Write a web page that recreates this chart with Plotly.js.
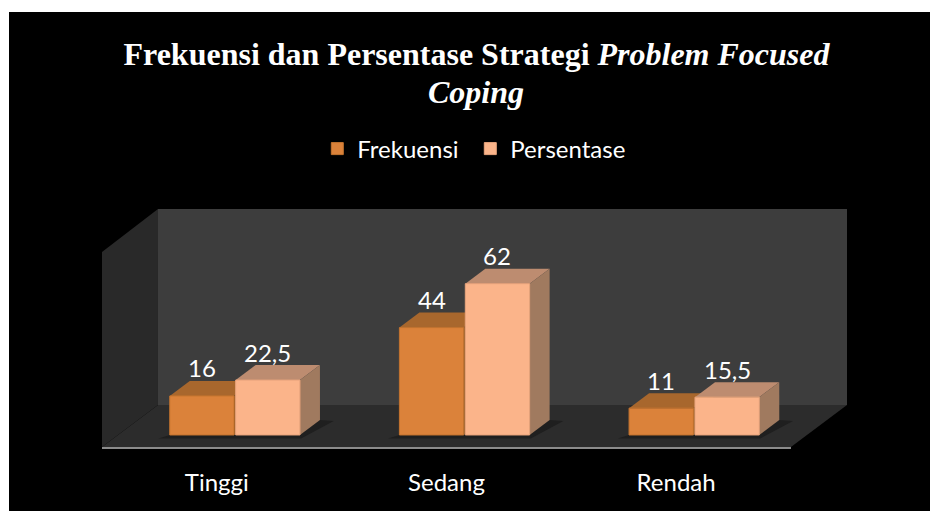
<!DOCTYPE html>
<html>
<head>
<meta charset="utf-8">
<script src="https://cdn.plot.ly/plotly-3.0.1.min.js"></script>
<style>
html,body{margin:0;padding:0;background:#fff;width:930px;height:511px;overflow:hidden}
#chart{position:absolute;left:9px;top:12px;width:921px;height:499px}
</style>
</head>
<body>
<div id="chart"></div>
<script>
const categories = ['Tinggi', 'Sedang', 'Rendah'];
const frekuensi = [16, 44, 11];
const persentase = [22.5, 62, 15.5];
const frekuensiText = ['16', '44', '11'];
const persentaseText = ['22,5', '62', '15,5'];
const seriesNames = ['Frekuensi', 'Persentase'];

const W = 921, H = 499;
const M = {l: 93, r: 83, t: 197, b: 62};
const xRange = [-0.5, 2.744], yRange = [-5.74, 92.6];
const uX = (W - M.l - M.r) / (xRange[1] - xRange[0]);
const uY = (H - M.t - M.b) / (yRange[1] - yRange[0]);
const depthX = 20 / uX, depthY = 15 / uY;
const barW = 0.28, offA = -0.205, offB = 0.082;
const floorY = -4.92, backX = -0.2562, backY = 12.3, frontEnd = 2.5, leftTopY = 75;
const labelFont = {family: 'Lato, sans-serif', size: 24, color: '#ffffff'};
const titleFont = {family: '"Liberation Serif", serif', size: 32, color: '#ffffff', weight: 'bold'};

function poly(pts, fill, extra) {
  return Object.assign({
    type: 'path', xref: 'x', yref: 'y', layer: 'below',
    fillcolor: fill, line: {width: 0},
    path: 'M' + pts.map(p => p[0] + ',' + p[1]).join('L') + 'Z'
  }, extra || {});
}

const shapes = [
  poly([[backX, backY], [xRange[1], backY], [xRange[1], yRange[1]], [backX, yRange[1]]], '#3d3d3d'),
  poly([[xRange[0], floorY], [backX, backY], [backX, yRange[1]], [xRange[0], leftTopY]], '#292929'),
  poly([[xRange[0], floorY], [backX, backY], [xRange[1], backY], [frontEnd, floorY]], '#2c2c2c')
];

categories.forEach((c, i) => {
  const l = i + offA, r = i + offB + barW;
  shapes.push(poly([
    [l - 0.05, -1.4], [r + 0.005, -1.4], [r + depthX + 0.06, depthY - 0.4], [r + depthX, depthY], [l, 0]
  ], '#1f1f1f'));
});

function faces(offset, values, topColor, sideColor) {
  values.forEach((v, i) => {
    const l = i + offset, r = l + barW;
    shapes.push(poly([[l, v], [r, v], [r + depthX, v + depthY], [l + depthX, v + depthY]], topColor));
    shapes.push(poly([[r, 0], [r + depthX, depthY], [r + depthX, v + depthY], [r, v]], sideColor));
  });
}
faces(offA, frekuensi, '#a8672d', '#8f5826');
faces(offB, persentase, '#bd8c70', '#a07a5f');

shapes.push({
  type: 'line', xref: 'x', yref: 'y', layer: 'above',
  x0: xRange[0], x1: frontEnd, y0: -5.33, y1: -5.33,
  line: {color: '#8c8c8c', width: 2}
});

function labels(offset, values, text) {
  return values.map((v, i) => ({
    x: i + offset + barW / 2, y: v, xref: 'x', yref: 'y',
    text: text[i], showarrow: false, yanchor: 'middle', xanchor: 'center',
    yshift: 28, font: labelFont
  }));
}

const traces = [
  {type: 'bar', name: seriesNames[0], x: categories, y: frekuensi, width: barW, offset: offA,
   legendwidth: 108,
   marker: {color: '#db823a', line: {color: '#c4742f', width: 1}}, hoverinfo: 'x+y'},
  {type: 'bar', name: seriesNames[1], x: categories, y: persentase, width: barW, offset: offB,
   marker: {color: '#fbb48a', line: {color: '#e8a47c', width: 1}}, hoverinfo: 'x+y'}
];

const layout = {
  width: W, height: H, margin: M,
  paper_bgcolor: '#000000', plot_bgcolor: '#000000',
  barmode: 'overlay',
  showlegend: true,
  font: {family: 'Lato, sans-serif', color: '#ffffff'},
  title: {
    text: 'Frekuensi dan Persentase Strategi <i>Problem Focused</i>',
    font: titleFont,
    x: 467.5 / W, xanchor: 'center', y: 1 - 42 / H, yanchor: 'middle'
  },
  legend: {
    orientation: 'h', x: 0.289, xanchor: 'left', y: 1.25, yanchor: 'middle',
    font: labelFont,
    bgcolor: 'rgba(0,0,0,0)', traceorder: 'normal'
  },
  xaxis: {
    type: 'category', categoryorder: 'array', categoryarray: categories,
    range: xRange, fixedrange: true, showgrid: false, zeroline: false, showline: false,
    ticks: 'outside', ticklen: 12, tickcolor: 'rgba(0,0,0,0)',
    tickfont: labelFont
  },
  yaxis: {range: yRange, visible: false, fixedrange: true, showgrid: false, zeroline: false},
  shapes: shapes,
  annotations: [{
    text: '<i>Coping</i>', xref: 'paper', yref: 'paper', showarrow: false,
    x: (467.5 - M.l) / (W - M.l - M.r), xanchor: 'center',
    y: 1 + (M.t - 80) / (H - M.t - M.b), yanchor: 'middle',
    font: titleFont
  }].concat(labels(offA, frekuensi, frekuensiText), labels(offB, persentase, persentaseText))
};

Plotly.newPlot('chart', traces, layout, {displayModeBar: false, responsive: false});
</script>
</body>
</html>
